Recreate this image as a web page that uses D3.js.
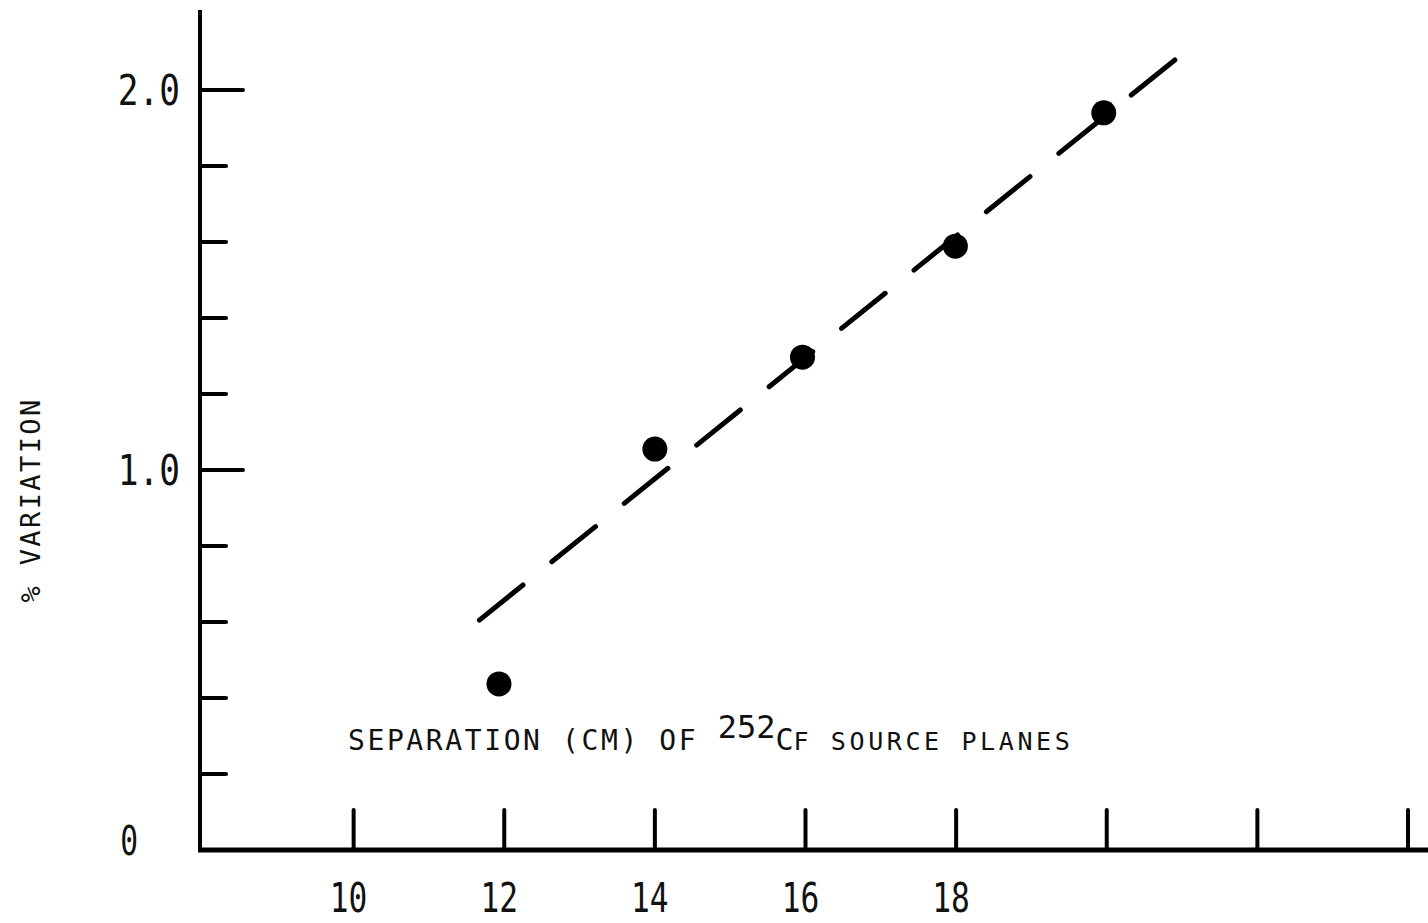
<!DOCTYPE html>
<html>
<head>
<meta charset="utf-8">
<script src="https://cdn.jsdelivr.net/npm/d3@7"></script>
<style>
  body { margin: 0; background: #fff; }
  text { font-family: "DejaVu Sans Mono", monospace; fill: #111; }
</style>
</head>
<body>
<script>
// chart data
const sepCm = [11.93, 14.0, 15.96, 17.99, 19.96]
const pctVariation = [0.437, 1.055, 1.297, 1.589, 1.94]

// dashed fit line end points
const fitX = [11.67, 20.91]
const fitY = [0.605, 2.08]

const xTicks = [10, 12, 14, 16, 18, 20, 22, 24]
const xTickLabels = ['10', '12', '14', '16', '18', '', '', '']
const yMinorTicks = [0.2, 0.4, 0.6, 0.8, 1.2, 1.4, 1.6, 1.8]
const yMajorTicks = [1.0, 2.0]
const yTickLabels = ['1.0', '2.0']

const m = { width: 1428, height: 923 }

const svg = d3.select('body').append('svg')
    .attr('width', m.width)
    .attr('height', m.height)

// scales
const x = d3.scaleLinear().domain([8, 24]).range([203, 1408])
const y = d3.scaleLinear().domain([0, 2.0]).range([850, 90])

// y axis line
svg.append('line')
    .attr('x1', 200).attr('x2', 200)
    .attr('y1', 10).attr('y2', 851)
    .attr('stroke', '#000').attr('stroke-width', 4)

// x axis line
svg.append('line')
    .attr('x1', 198).attr('x2', m.width)
    .attr('y1', 850).attr('y2', 850)
    .attr('stroke', '#000').attr('stroke-width', 5)

// x ticks point up
svg.selectAll('.xtick')
    .data(xTicks)
    .enter()
    .append('line')
        .attr('x1', d => x(d)).attr('x2', d => x(d))
        .attr('y1', 850).attr('y2', 810)
        .attr('stroke', '#000').attr('stroke-width', 4)
        .attr('stroke-linecap', 'round')

svg.selectAll('.xlabel')
    .data(xTicks)
    .enter()
    .append('text')
        .attr('transform', d => `translate(${x(d) - 5},912) scale(0.78,1)`)
        .attr('text-anchor', 'middle')
        .attr('font-size', 40)
        .text((d, i) => xTickLabels[i])

// y ticks point right
svg.selectAll('.ymin')
    .data(yMinorTicks)
    .enter()
    .append('line')
        .attr('x1', 200).attr('x2', 226)
        .attr('y1', d => y(d)).attr('y2', d => y(d))
        .attr('stroke', '#000').attr('stroke-width', 4)
        .attr('stroke-linecap', 'round')

svg.selectAll('.ymaj')
    .data(yMajorTicks)
    .enter()
    .append('line')
        .attr('x1', 200).attr('x2', 243)
        .attr('y1', d => y(d)).attr('y2', d => y(d))
        .attr('stroke', '#000').attr('stroke-width', 4)
        .attr('stroke-linecap', 'round')

svg.selectAll('.ylabel')
    .data(yMajorTicks)
    .enter()
    .append('text')
        .attr('transform', d => `translate(180,${y(d) + 15}) scale(0.82,1)`)
        .attr('text-anchor', 'end')
        .attr('font-size', 42)
        .text((d, i) => yTickLabels[i])

// zero label
svg.append('text')
    .attr('transform', `translate(138,${y(0) + 5}) scale(0.74,1)`)
    .attr('text-anchor', 'end')
    .attr('font-size', 40)
    .text('0')

// y axis title
svg.append('text')
    .attr('transform', 'translate(40,500) rotate(-90)')
    .attr('text-anchor', 'middle')
    .attr('font-size', 27)
    .attr('letter-spacing', 2.4)
    .text('% VARIATION')

// x axis title with superscript
const title = svg.append('text')
    .attr('x', 348)
    .attr('y', 750)
    .attr('font-size', 28)
    .attr('letter-spacing', 2.6)
title.append('tspan').text('SEPARATION (CM) OF ')
title.append('tspan').attr('dy', -12).attr('font-size', 32).attr('letter-spacing', 0).text('252')
title.append('tspan').attr('dy', 12).attr('font-size', 30).attr('letter-spacing', 0).text('C')
title.append('tspan').attr('font-size', 25).attr('letter-spacing', 3.6).text('F SOURCE PLANES')

// dashed fit line
svg.append('line')
    .attr('x1', x(fitX[0])).attr('y1', y(fitY[0]))
    .attr('x2', x(fitX[1])).attr('y2', y(fitY[1]))
    .attr('stroke', '#000').attr('stroke-width', 5)
    .attr('stroke-linecap', 'round')
    .attr('stroke-dasharray', '56,37')

// data points
svg.selectAll('.pt')
    .data(sepCm)
    .enter()
    .append('circle')
        .attr('cx', d => x(d))
        .attr('cy', (d, i) => y(pctVariation[i]))
        .attr('r', 12.5)
        .attr('fill', '#000')
</script>
</body>
</html>
